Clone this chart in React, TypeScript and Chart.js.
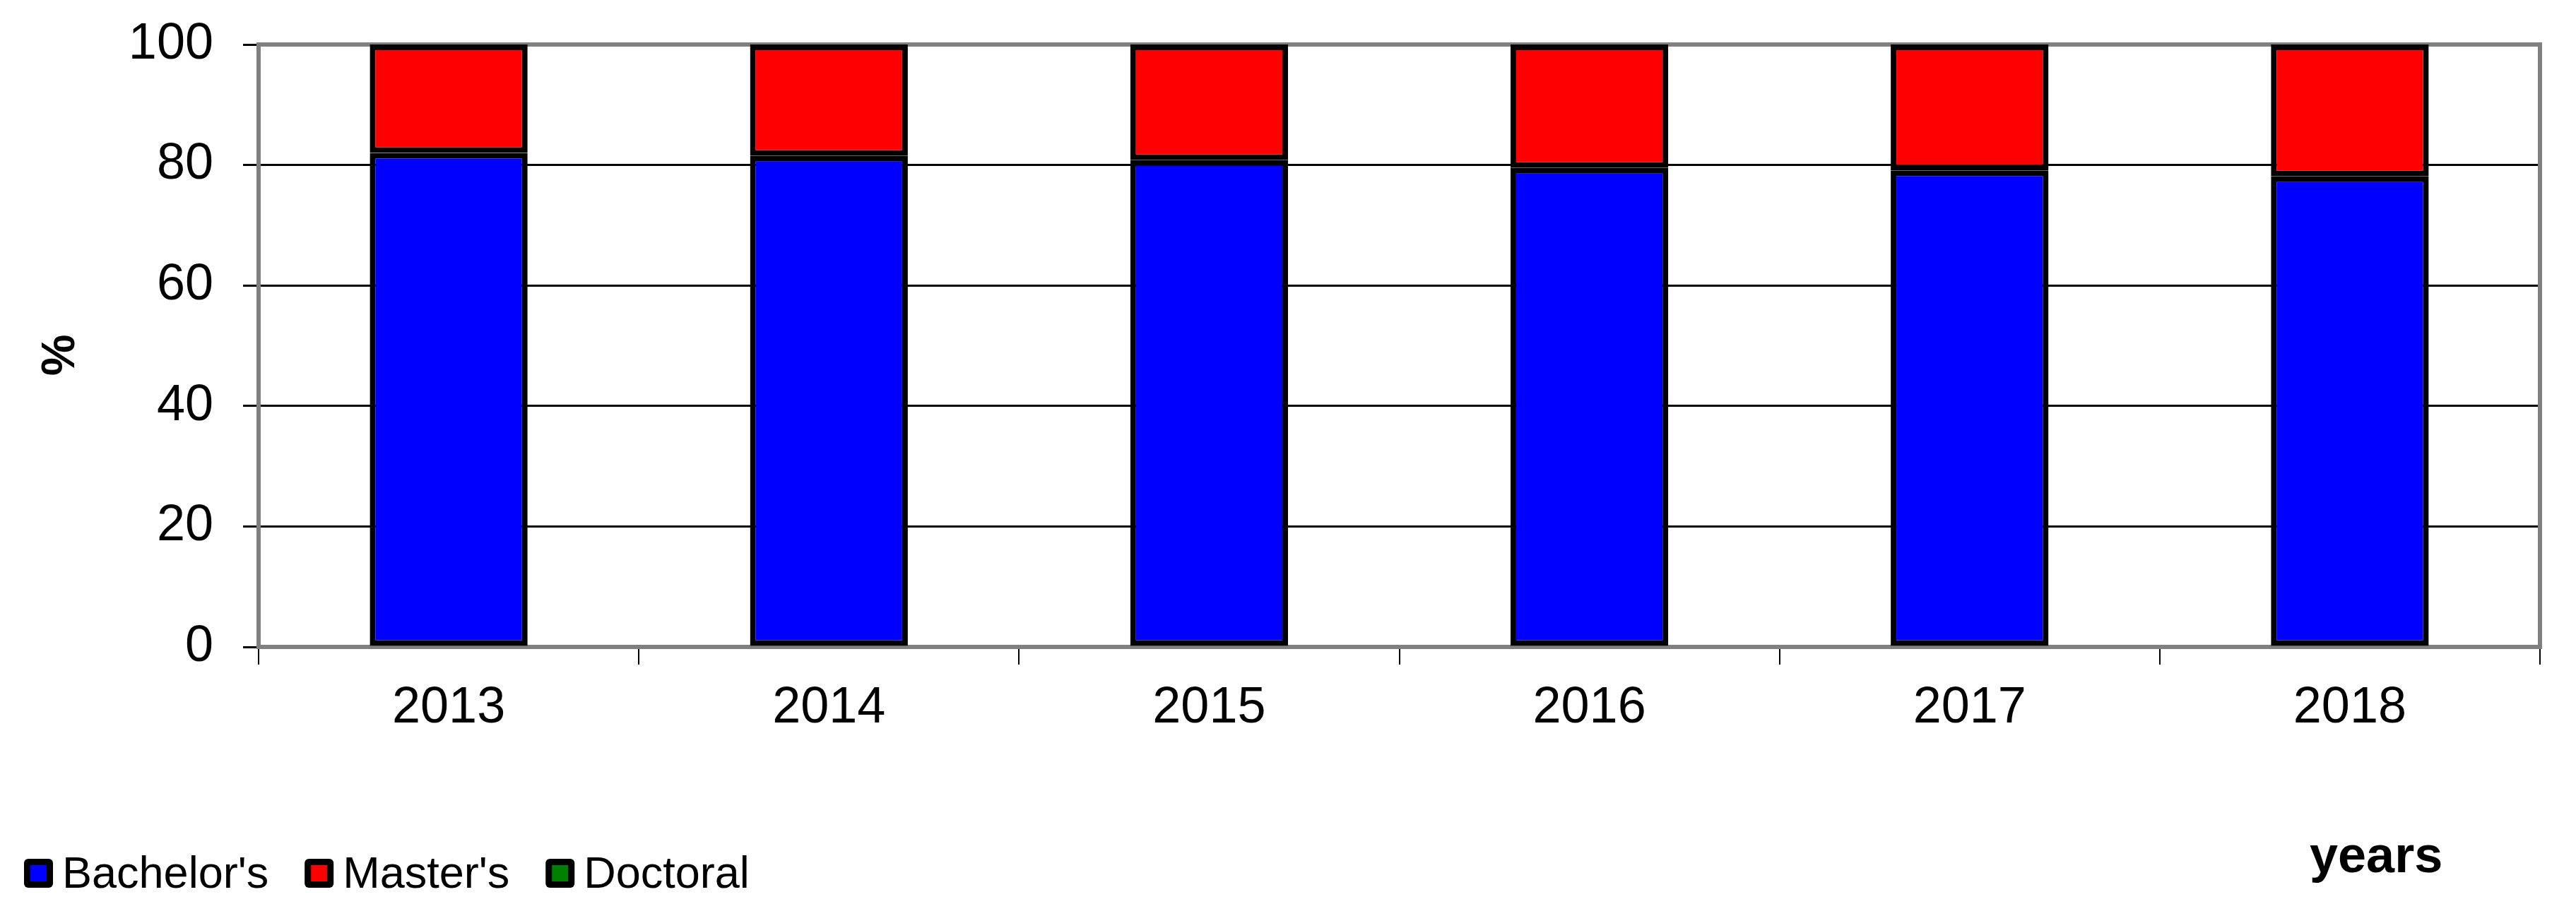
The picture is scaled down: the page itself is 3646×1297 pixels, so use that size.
import React, { useEffect, useRef } from 'react';
import { Chart, registerables } from 'chart.js';

Chart.register(...registerables);

const years = ['2013', '2014', '2015', '2016', '2017', '2018'];
const bachelors = [82.0, 81.5, 80.8, 79.5, 79.1, 78.1];
const masters = [18.0, 18.5, 19.2, 20.5, 20.9, 21.9];
const doctoral = [0, 0, 0, 0, 0, 0];
const yTicks = [0, 20, 40, 60, 80, 100];
const seriesNames = ["Bachelor's", "Master's", 'Doctoral'];
const seriesColors = ['#0000FF', '#FF0000', '#008000'];
const xAxisTitle = 'years';
const yAxisTitle = '%';

const FONT = '"Liberation Sans", Arial, Helvetica, sans-serif';

const framePlugin = {
  id: 'frame',
  beforeDatasetsDraw(chart: any) {
    const { ctx, chartArea } = chart;
    ctx.save();
    ctx.strokeStyle = '#808080';
    ctx.lineWidth = 6;
    ctx.strokeRect(chartArea.left, chartArea.top, chartArea.right - chartArea.left, chartArea.bottom - chartArea.top);
    ctx.restore();
  },
};

const textPlugin = {
  id: 'texts',
  afterDraw(chart: any) {
    const { ctx } = chart;
    ctx.save();
    ctx.fillStyle = '#000';
    ctx.font = `bold 66px ${FONT}`;
    ctx.translate(87, 503);
    ctx.rotate(-Math.PI / 2);
    ctx.textAlign = 'center';
    ctx.textBaseline = 'middle';
    ctx.fillText(yAxisTitle, 0, 0);
    ctx.restore();

    ctx.save();
    ctx.fillStyle = '#000';
    ctx.font = `bold 72px ${FONT}`;
    ctx.textAlign = 'left';
    ctx.textBaseline = 'alphabetic';
    ctx.fillText(xAxisTitle, 3269, 1235);
    ctx.restore();

    // legend
    ctx.save();
    ctx.font = `63px ${FONT}`;
    ctx.textAlign = 'left';
    ctx.textBaseline = 'alphabetic';
    let x = 34;
    const boxY = 1216;
    const boxS = 41;
    chart.data.datasets.forEach((ds: any, i: number) => {
      ctx.fillStyle = '#000';
      ctx.beginPath();
      if (ctx.roundRect) ctx.roundRect(x, boxY, boxS, boxS, 6);
      else ctx.rect(x, boxY, boxS, boxS);
      ctx.fill();
      ctx.fillStyle = seriesColors[i];
      ctx.fillRect(x + 9, boxY + 9, boxS - 18, boxS - 18);
      ctx.fillStyle = '#000';
      const tx = x + 54;
      ctx.fillText(ds.label, tx, 1257);
      x = tx + ctx.measureText(ds.label).width + 51;
    });
    ctx.restore();
  },
};

export default function App() {
  const ref = useRef<HTMLCanvasElement | null>(null);

  useEffect(() => {
    if (!ref.current) return;
    const chart = new Chart(ref.current, {
      type: 'bar',
      data: {
        labels: years,
        datasets: [
          {
            label: seriesNames[0],
            data: bachelors,
            backgroundColor: seriesColors[0],
            borderColor: '#000',
            borderWidth: 8,
            borderSkipped: false,
            barPercentage: 0.415,
            categoryPercentage: 1,
          },
          {
            label: seriesNames[1],
            data: masters,
            backgroundColor: seriesColors[1],
            borderColor: '#000',
            borderWidth: 8,
            borderSkipped: false,
            barPercentage: 0.415,
            categoryPercentage: 1,
          },
          {
            label: seriesNames[2],
            data: doctoral,
            backgroundColor: seriesColors[2],
            borderColor: '#000',
            borderWidth: 0,
            borderSkipped: false,
            barPercentage: 0.415,
            categoryPercentage: 1,
          },
        ],
      },
      options: {
        responsive: false,
        animation: false,
        devicePixelRatio: 1,
        layout: { padding: { left: 0, top: 63, right: 51, bottom: 0 } },
        plugins: {
          legend: { display: false },
          tooltip: { enabled: false },
          title: { display: false },
        },
        scales: {
          x: {
            stacked: true,
            offset: true,
            grid: {
              offset: true,
              drawOnChartArea: false,
              drawTicks: true,
              tickLength: 25,
              color: '#000',
              lineWidth: 2,
            },
            border: { display: false },
            ticks: {
              color: '#000',
              font: { family: FONT, size: 72 },
              padding: 19,
              maxRotation: 0,
              autoSkip: false,
            },
            afterFit: (s: any) => {
              s.height = 381;
              s.paddingLeft = 0;
              s.paddingRight = 0;
            },
          },
          y: {
            stacked: true,
            min: 0,
            max: 100,
            afterBuildTicks: (s: any) => {
              s.ticks = yTicks.map((v) => ({ value: v }));
            },
            grid: {
              color: (c: any) =>
                c.tick && (c.tick.value === 0 || c.tick.value === 100) ? 'rgba(0,0,0,0)' : '#000',
              tickColor: '#000',
              lineWidth: 3,
              tickLength: 22,
            },
            border: { display: false },
            ticks: {
              color: '#000',
              font: { family: FONT, size: 72 },
              padding: 42,
            },
            afterFit: (s: any) => {
              s.width = 366;
              s.paddingTop = 0;
              s.paddingBottom = 0;
            },
          },
        },
      },
      plugins: [framePlugin, textPlugin],
    } as any);
    return () => chart.destroy();
  }, []);

  return (
    <div style={{ position: 'absolute', left: 0, top: 0, width: 3646, height: 1297, background: '#fff' }}>
      <canvas ref={ref} width={3646} height={1297} style={{ display: 'block' }} />
    </div>
  );
}
